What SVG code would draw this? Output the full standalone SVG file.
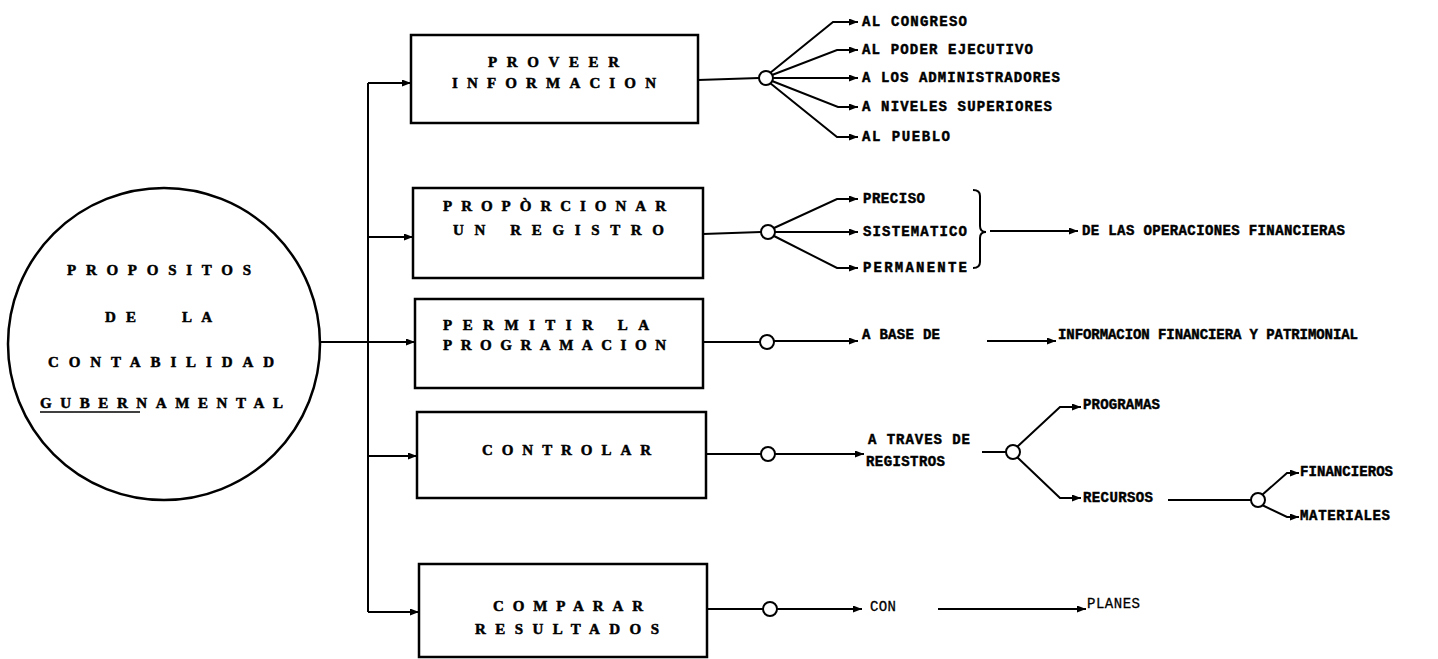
<svg xmlns="http://www.w3.org/2000/svg" width="1438" height="659" viewBox="0 0 1438 659">
<style>
.bx{fill:#fff;stroke:#000;stroke-width:2.5}
.ln{fill:none;stroke:#000;stroke-width:2}
.ar{marker-end:url(#ah)}
.jn{fill:#fff;stroke:#000;stroke-width:2}
.t{font-family:"Liberation Serif",serif;font-weight:bold;font-size:15px;fill:#000;stroke:#000;stroke-width:0.5}
.l{font-family:"Liberation Mono",monospace;font-weight:bold;font-size:14px;fill:#000;stroke:#000;stroke-width:0.45}
.lr{font-family:"Liberation Mono",monospace;font-weight:normal;font-size:14px;fill:#000;stroke:#000;stroke-width:0.3}
</style>
<defs>
<marker id="ah" markerUnits="userSpaceOnUse" markerWidth="10" markerHeight="8" refX="9" refY="3.5" orient="auto">
<path d="M0,0 L9,3.5 L0,7 z" fill="#000"/>
</marker>
</defs>
<rect width="1438" height="659" fill="#fff"/>

<g id="connectors">
<line class="ln" x1="320" y1="342" x2="368" y2="342"/>
<line class="ln" x1="368" y1="83" x2="368" y2="612"/>
<line class="ln ar" x1="368" y1="83" x2="411" y2="83"/>
<line class="ln ar" x1="368" y1="237" x2="413" y2="237"/>
<line class="ln ar" x1="368" y1="342" x2="415" y2="342"/>
<line class="ln ar" x1="368" y1="456" x2="417" y2="456"/>
<line class="ln ar" x1="368" y1="612" x2="419" y2="612"/>

<!-- box 1 fan -->
<line class="ln" x1="698" y1="80" x2="759" y2="78"/>
<polyline class="ln ar" points="770,73 833,22 858,22"/>
<polyline class="ln ar" points="772,75 837,50 858,50"/>
<line class="ln ar" x1="773" y1="78" x2="858" y2="78"/>
<polyline class="ln ar" points="772,81 838,107 858,107"/>
<polyline class="ln ar" points="770,83 837,137 858,137"/>
<circle class="jn" cx="766" cy="78" r="7"/>

<!-- box 2 fan -->
<line class="ln" x1="703" y1="234" x2="761" y2="232"/>
<polyline class="ln ar" points="774,228 837,199 858,199"/>
<line class="ln ar" x1="775" y1="232" x2="858" y2="232"/>
<polyline class="ln ar" points="774,236 837,268 858,268"/>
<circle class="jn" cx="768" cy="232" r="7"/>
<path class="ln" d="M973,190 Q980,190 980,196 L980,226 Q980,232 986,232 Q980,232 980,238 L980,262 Q980,268 973,268"/>
<line class="ln ar" x1="990" y1="231" x2="1078" y2="231"/>

<!-- box 3 -->
<line class="ln" x1="703" y1="342" x2="760" y2="342"/>
<line class="ln ar" x1="774" y1="341" x2="858" y2="341"/>
<circle class="jn" cx="767" cy="342" r="7"/>
<line class="ln ar" x1="987" y1="341" x2="1056" y2="341"/>

<!-- box 4 -->
<line class="ln" x1="706" y1="454" x2="761" y2="454"/>
<line class="ln ar" x1="775" y1="454" x2="864" y2="454"/>
<circle class="jn" cx="768" cy="454" r="7"/>
<line class="ln" x1="982" y1="452" x2="1006" y2="452"/>
<polyline class="ln ar" points="1017,447 1060,407 1081,407"/>
<polyline class="ln ar" points="1017,457 1060,498 1081,498"/>
<circle class="jn" cx="1013" cy="452" r="7"/>
<line class="ln" x1="1168" y1="500" x2="1251" y2="500"/>
<polyline class="ln ar" points="1262,495 1287,473 1299,473"/>
<polyline class="ln ar" points="1262,505 1287,517 1299,517"/>
<circle class="jn" cx="1258" cy="500" r="7"/>

<!-- box 5 -->
<line class="ln" x1="707" y1="609" x2="763" y2="609"/>
<line class="ln ar" x1="777" y1="609" x2="862" y2="609"/>
<circle class="jn" cx="770" cy="609" r="7"/>
<line class="ln ar" x1="938" y1="609" x2="1086" y2="609"/>
</g>

<g id="main-circle">
<circle cx="164" cy="344" r="156" fill="#fff" stroke="#000" stroke-width="2.5"/>
<text class="t" x="67" y="275" textLength="184" lengthAdjust="spacing">PROPOSITOS</text>
<text class="t" x="105" y="322" textLength="31" lengthAdjust="spacing">DE</text>
<text class="t" x="182" y="322" textLength="30" lengthAdjust="spacing">LA</text>
<text class="t" x="48" y="367" textLength="226" lengthAdjust="spacing">CONTABILIDAD</text>
<text class="t" x="40" y="408" textLength="243" lengthAdjust="spacing">GUBERNAMENTAL</text>
<line x1="40" y1="412" x2="140" y2="412" stroke="#000" stroke-width="1.5"/>
</g>

<g id="box-proveer">
<rect class="bx" x="411" y="35" width="287" height="88"/>
<text class="t" x="488" y="67" textLength="131" lengthAdjust="spacing">PROVEER</text>
<text class="t" x="452" y="88" textLength="204" lengthAdjust="spacing">INFORMACION</text>
</g>

<g id="box-proporcionar">
<rect class="bx" x="413" y="188" width="290" height="90"/>
<text class="t" x="443" y="211" textLength="223" lengthAdjust="spacing">PROPÒRCIONAR</text>
<text class="t" x="453" y="235" textLength="211" lengthAdjust="spacing">UN REGISTRO</text>
</g>

<g id="box-permitir">
<rect class="bx" x="415" y="299" width="288" height="89"/>
<text class="t" x="443" y="330" textLength="206" lengthAdjust="spacing">PERMITIR LA</text>
<text class="t" x="443" y="350" textLength="223" lengthAdjust="spacing">PROGRAMACION</text>
</g>

<g id="box-controlar">
<rect class="bx" x="417" y="412" width="289" height="86"/>
<text class="t" x="482" y="455" textLength="169" lengthAdjust="spacing">CONTROLAR</text>
</g>

<g id="box-comparar">
<rect class="bx" x="419" y="564" width="288" height="93"/>
<text class="t" x="493" y="611" textLength="150" lengthAdjust="spacing">COMPARAR</text>
<text class="t" x="475" y="634" textLength="184" lengthAdjust="spacing">RESULTADOS</text>
</g>

<g id="labels-proveer">
<text class="l" x="862" y="26" textLength="105" lengthAdjust="spacing">AL CONGRESO</text>
<text class="l" x="862" y="54" textLength="171" lengthAdjust="spacing">AL PODER EJECUTIVO</text>
<text class="l" x="862" y="82" textLength="198" lengthAdjust="spacing">A LOS ADMINISTRADORES</text>
<text class="l" x="862" y="111" textLength="190" lengthAdjust="spacing">A NIVELES SUPERIORES</text>
<text class="l" x="862" y="141" textLength="88" lengthAdjust="spacing">AL PUEBLO</text>
</g>

<g id="labels-registro">
<text class="l" x="863" y="203" textLength="62" lengthAdjust="spacing">PRECISO</text>
<text class="l" x="863" y="236" textLength="104" lengthAdjust="spacing">SISTEMATICO</text>
<text class="l" x="863" y="272" textLength="104" lengthAdjust="spacing">PERMANENTE</text>
<text class="l" x="1082" y="235" textLength="263" lengthAdjust="spacing">DE LAS OPERACIONES FINANCIERAS</text>
</g>

<g id="labels-programacion">
<text class="l" x="862" y="339" textLength="78" lengthAdjust="spacing">A BASE DE</text>
<text class="l" x="1058" y="339" textLength="300" lengthAdjust="spacing">INFORMACION FINANCIERA Y PATRIMONIAL</text>
</g>

<g id="labels-controlar">
<text class="l" x="868" y="444" textLength="102" lengthAdjust="spacing">A TRAVES DE</text>
<text class="l" x="866" y="466" textLength="79" lengthAdjust="spacing">REGISTROS</text>
<text class="l" x="1083" y="409" textLength="77" lengthAdjust="spacing">PROGRAMAS</text>
<text class="l" x="1083" y="502" textLength="70" lengthAdjust="spacing">RECURSOS</text>
<text class="l" x="1300" y="476" textLength="93" lengthAdjust="spacing">FINANCIEROS</text>
<text class="l" x="1300" y="520" textLength="90" lengthAdjust="spacing">MATERIALES</text>
</g>

<g id="labels-comparar">
<text class="lr" x="870" y="611" textLength="26" lengthAdjust="spacing">CON</text>
<text class="lr" x="1087" y="608" textLength="53" lengthAdjust="spacing">PLANES</text>
</g>
</svg>
